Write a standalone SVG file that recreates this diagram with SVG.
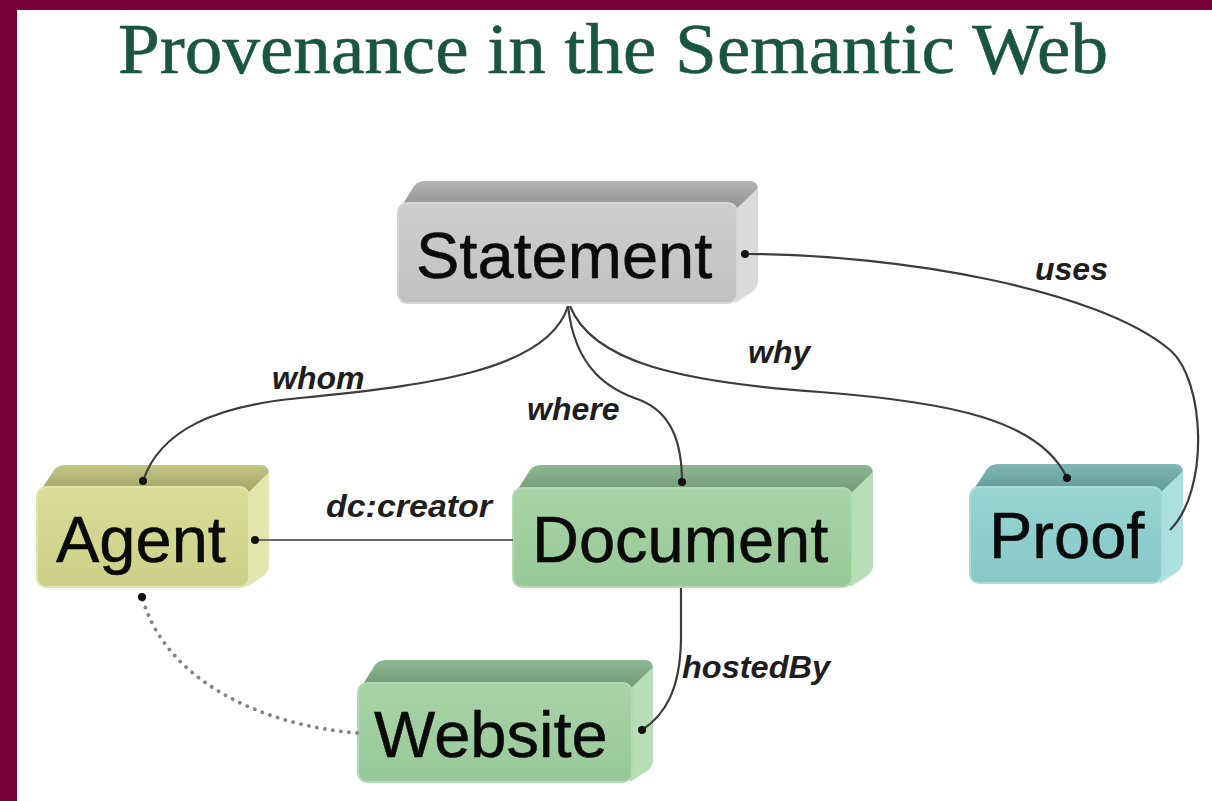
<svg xmlns="http://www.w3.org/2000/svg" width="1212" height="801" viewBox="0 0 1212 801">
  <defs>
    <style>
      .title { font-family: "Liberation Serif", "Times New Roman", serif; font-size: 72px; fill: #1a5540; stroke: #1a5540; stroke-width: 0.6; }
      .name { font-family: "Liberation Sans", Arial, sans-serif; font-size: 65px; fill: #0a0a0a; stroke: #0a0a0a; stroke-width: 0.5; }
      .lbl { font-family: "Liberation Sans", Arial, sans-serif; font-size: 32px; font-weight: bold; font-style: italic; fill: #1e1e1e; }
      .edge { fill: none; stroke: #3c3c3c; stroke-width: 2.2; }
      .edge-light { fill: none; stroke: #6a6a6a; stroke-width: 2.2; }
      .edge-dot { fill: none; stroke: #858585; stroke-width: 3.8; stroke-linecap: round; stroke-dasharray: 0.1 8; }
      .pin { fill: #111; }
    </style>
    <!-- face shading per node colour -->
    <linearGradient id="topGray" x1="0" y1="0" x2="0" y2="1">
      <stop offset="0" stop-color="#b4b4b4"/><stop offset="1" stop-color="#8c8c8c"/>
    </linearGradient>
    <linearGradient id="frontGray" x1="0" y1="0" x2="0" y2="1">
      <stop offset="0" stop-color="#cfcfcf"/><stop offset="1" stop-color="#c0c0c0"/>
    </linearGradient>
    <linearGradient id="topOlive" x1="0" y1="0" x2="0" y2="1">
      <stop offset="0" stop-color="#c2c584"/><stop offset="1" stop-color="#9ea062"/>
    </linearGradient>
    <linearGradient id="frontOlive" x1="0" y1="0" x2="0" y2="1">
      <stop offset="0" stop-color="#dadd98"/><stop offset="1" stop-color="#cdd088"/>
    </linearGradient>
    <linearGradient id="topGreen" x1="0" y1="0" x2="0" y2="1">
      <stop offset="0" stop-color="#8db790"/><stop offset="1" stop-color="#6c9570"/>
    </linearGradient>
    <linearGradient id="frontGreen" x1="0" y1="0" x2="0" y2="1">
      <stop offset="0" stop-color="#a8d4a8"/><stop offset="1" stop-color="#98c898"/>
    </linearGradient>
    <linearGradient id="topTeal" x1="0" y1="0" x2="0" y2="1">
      <stop offset="0" stop-color="#80b8b8"/><stop offset="1" stop-color="#5e9595"/>
    </linearGradient>
    <linearGradient id="frontTeal" x1="0" y1="0" x2="0" y2="1">
      <stop offset="0" stop-color="#98d4d4"/><stop offset="1" stop-color="#88c8c8"/>
    </linearGradient>
  </defs>

  <!-- page -->
  <rect x="0" y="0" width="1212" height="801" fill="#ffffff"/>
  <rect x="0" y="0" width="1212" height="10" fill="#78003a"/>
  <rect x="0" y="0" width="17" height="801" fill="#78003a"/>

  <text class="title" x="118" y="73" textLength="990" lengthAdjust="spacingAndGlyphs">Provenance in the Semantic Web</text>

  <!-- Statement -->
  <g id="node-statement">
    <path d="M 398 212 L 414 186 Q 418 181 426 181 L 750 181 Q 758 181 758 190 L 735 212 Z" fill="url(#topGray)"/>
    <path d="M 735 210 L 758 188 L 758 282 Q 758 287 752 292 L 735 303 Z" fill="#dadada"/>
    <rect x="398" y="203" width="339" height="100" rx="9" fill="url(#frontGray)" stroke="#d6d6d6" stroke-width="2"/>
    <text class="name" x="416" y="278">Statement</text>
  </g>

  <!-- Agent -->
  <g id="node-agent">
    <path d="M 37 496 L 54 470 Q 58 465 66 465 L 261 465 Q 269 465 269 474 L 247 496 Z" fill="url(#topOlive)"/>
    <path d="M 247 494 L 269 472 L 269 566 Q 269 571 263 576 L 247 587 Z" fill="#e2e5ac"/>
    <rect x="37" y="487" width="212" height="100" rx="9" fill="url(#frontOlive)" stroke="#e2e4ae" stroke-width="2"/>
    <text class="name" x="56" y="562">Agent</text>
  </g>

  <!-- Document -->
  <g id="node-document">
    <path d="M 513 497 L 530 470 Q 534 465 542 465 L 865 465 Q 873 465 873 474 L 850 497 Z" fill="url(#topGreen)"/>
    <path d="M 850 494 L 873 472 L 873 566 Q 873 571 867 576 L 850 587 Z" fill="#b8deb8"/>
    <rect x="513" y="488" width="339" height="99" rx="9" fill="url(#frontGreen)" stroke="#b2dab2" stroke-width="2"/>
    <text class="name" x="532" y="562">Document</text>
  </g>

  <!-- Proof -->
  <g id="node-proof">
    <path d="M 970 495 L 987 469 Q 991 464 999 464 L 1175 464 Q 1183 464 1183 473 L 1160 495 Z" fill="url(#topTeal)"/>
    <path d="M 1160 493 L 1183 471 L 1183 562 Q 1183 567 1177 572 L 1160 583 Z" fill="#ace0e0"/>
    <rect x="970" y="487" width="192" height="96" rx="9" fill="url(#frontTeal)" stroke="#a6dcdc" stroke-width="2"/>
    <text class="name" x="989" y="558">Proof</text>
  </g>

  <!-- Website -->
  <g id="node-website">
    <path d="M 358 692 L 375 665 Q 379 660 387 660 L 645 660 Q 653 660 653 669 L 630 692 Z" fill="url(#topGreen)"/>
    <path d="M 630 689 L 653 667 L 653 761 Q 653 766 647 771 L 630 782 Z" fill="#b8deb8"/>
    <rect x="358" y="683" width="274" height="99" rx="9" fill="url(#frontGreen)" stroke="#b2dab2" stroke-width="2"/>
    <text class="name" x="374" y="757">Website</text>
  </g>

  <!-- connectors, drawn over the box faces they end on -->
  <g id="connectors">
    <path id="e-uses" class="edge" d="M 745 254 C 900 254, 1100 290, 1170 350 C 1205 380, 1210 490, 1170 530"/>
    <path id="e-whom" class="edge" d="M 568 306 C 548 372, 420 386, 300 398 C 215 406, 160 430, 143 481"/>
    <path id="e-where" class="edge" d="M 568 306 C 575 370, 610 390, 640 400 C 670 412, 682 440, 682 482"/>
    <path id="e-why" class="edge" d="M 570 306 C 592 362, 680 382, 820 392 C 950 402, 1040 420, 1067 478"/>
    <path id="e-creator" class="edge-light" d="M 513 540 L 255 540"/>
    <path id="e-hosted" class="edge" d="M 681 588 L 681 640 C 680 690, 665 715, 642 730"/>
    <path id="e-agent" class="edge-dot" d="M 357 733 C 260 725, 165 680, 142 597"/>

    <circle class="pin" cx="745" cy="254" r="4"/>
    <circle class="pin" cx="143" cy="481" r="4"/>
    <circle class="pin" cx="682" cy="482" r="4"/>
    <circle class="pin" cx="1067" cy="478" r="4"/>
    <circle class="pin" cx="255" cy="540" r="4"/>
    <circle class="pin" cx="642" cy="730" r="4"/>
    <circle class="pin" cx="142" cy="597" r="4"/>

    <text class="lbl" x="272" y="389">whom</text>
    <text class="lbl" x="527" y="420">where</text>
    <text class="lbl" x="748" y="363">why</text>
    <text class="lbl" x="1035" y="280">uses</text>
    <text class="lbl" x="326" y="517" textLength="166" lengthAdjust="spacingAndGlyphs">dc:creator</text>
    <text class="lbl" x="682" y="678" textLength="148" lengthAdjust="spacingAndGlyphs">hostedBy</text>
  </g>
</svg>
